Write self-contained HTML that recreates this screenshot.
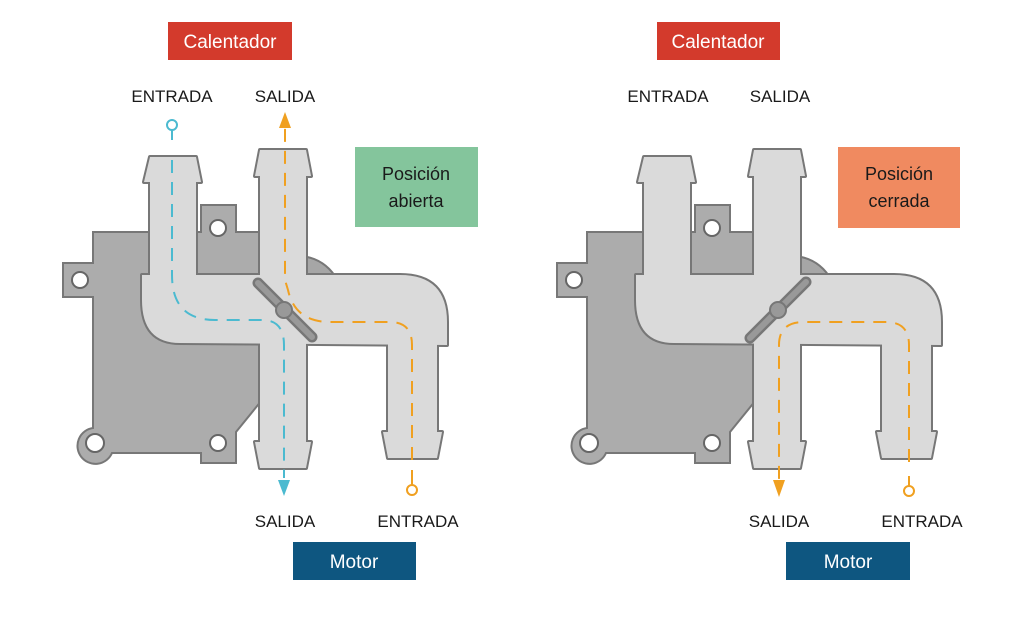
<!DOCTYPE html>
<html><head><style>
html,body{margin:0;padding:0;background:#fff;}
svg{display:block;font-family:"Liberation Sans",sans-serif;}
</style></head><body>
<svg width="1024" height="628" viewBox="0 0 1024 628" xmlns="http://www.w3.org/2000/svg">
<defs>
<g id="housing">
  <circle cx="298" cy="300" r="44" fill="#a6a6a6" stroke="#777" stroke-width="2"/>
  <path d="M93,232 L201,232 L201,205 L236,205 L236,232 L262,232 L262,400 L236,432 L236,463 L201,463 L201,453 L112,453 A18,18 0 1 1 93,428 L93,297 L63,297 L63,263 L93,263 Z" fill="#acacac" stroke="#777" stroke-width="2"/>
  <circle cx="80" cy="280" r="8" fill="#fff" stroke="#666" stroke-width="2"/>
  <circle cx="218" cy="228" r="8" fill="#fff" stroke="#666" stroke-width="2"/>
  <circle cx="95" cy="443" r="9" fill="#fff" stroke="#666" stroke-width="2"/>
  <circle cx="218" cy="443" r="8" fill="#fff" stroke="#666" stroke-width="2"/>
</g>
<g id="pipes">
  <path d="M150,300 L150,182 L144,182 L150,157 L196,157 L201,182 L196,182 L196,300 Z"/>
  <path d="M142,275 L400,275 Q447,275 447,322 L447,345 L180,343 Q142,343 142,300 Z"/>
  <path d="M260,360 L260,176 L255,176 L260,150 L306,150 L311,176 L306,176 L306,442 L311,442 L306,468 L260,468 L255,442 L260,442 Z"/>
  <path d="M388,330 L437,330 L437,432 L442,432 L437,458 L388,458 L383,432 L388,432 Z"/>
</g>
</defs>

<!-- LEFT DIAGRAM -->
<use href="#housing"/>
<g fill="#dadada" stroke="#777" stroke-width="4" stroke-linejoin="round"><use href="#pipes"/></g>
<g fill="#dadada" stroke="none"><use href="#pipes"/></g>
<line x1="258" y1="283" x2="312" y2="337" stroke="#777" stroke-width="11" stroke-linecap="round"/>
<line x1="258" y1="283" x2="312" y2="337" stroke="#999" stroke-width="6" stroke-linecap="round"/>
<circle cx="284" cy="310" r="8" fill="#999" stroke="#777" stroke-width="2"/>
<circle cx="172" cy="125" r="5" fill="none" stroke="#4bbad0" stroke-width="2"/>
<line x1="172" y1="130" x2="172" y2="140" stroke="#4bbad0" stroke-width="2"/>
<path d="M172,160 L172,275 Q172,320 215,320 L262,320 Q284,320 284,345 L284,478" fill="none" stroke="#4bbad0" stroke-width="2" stroke-dasharray="13,9"/>
<path d="M278,480 L290,480 L284,496 Z" fill="#4bbad0"/>
<circle cx="412" cy="490" r="5" fill="none" stroke="#f0a020" stroke-width="2"/>
<line x1="412" y1="485" x2="412" y2="470" stroke="#f0a020" stroke-width="2"/>
<path d="M412,460 L412,345 Q412,322 390,322 L330,322 Q295,322 288,290 L285,280 L285,128" fill="none" stroke="#f0a020" stroke-width="2" stroke-dasharray="13,9"/>
<path d="M279,128 L291,128 L285,112 Z" fill="#f0a020"/>

<!-- RIGHT DIAGRAM -->
<g transform="translate(494,0)">
<use href="#housing"/>
<g fill="#dadada" stroke="#777" stroke-width="4" stroke-linejoin="round"><use href="#pipes"/></g>
<g fill="#dadada" stroke="none"><use href="#pipes"/></g>
<line x1="256" y1="338" x2="312" y2="282" stroke="#777" stroke-width="11" stroke-linecap="round"/>
<line x1="256" y1="338" x2="312" y2="282" stroke="#999" stroke-width="6" stroke-linecap="round"/>
<circle cx="284" cy="310" r="8" fill="#999" stroke="#777" stroke-width="2"/>
<circle cx="415" cy="491" r="5" fill="none" stroke="#f0a020" stroke-width="2"/>
<line x1="415" y1="486" x2="415" y2="476" stroke="#f0a020" stroke-width="2"/>
<path d="M415,462 L415,345 Q415,322 392,322 L310,322 Q285,322 285,345 L285,480" fill="none" stroke="#f0a020" stroke-width="2" stroke-dasharray="13,9"/>
<path d="M279,480 L291,480 L285,497 Z" fill="#f0a020"/>
</g>

<!-- LABELS -->
<rect x="168" y="22" width="124" height="38" fill="#d33a2c"/>
<text x="230" y="48" font-size="19" fill="#fff" text-anchor="middle">Calentador</text>
<rect x="657" y="22" width="123" height="38" fill="#d33a2c"/>
<text x="718" y="48" font-size="19" fill="#fff" text-anchor="middle">Calentador</text>

<g font-size="17" fill="#1a1a1a" text-anchor="middle">
<text x="172" y="102">ENTRADA</text>
<text x="285" y="102">SALIDA</text>
<text x="668" y="102">ENTRADA</text>
<text x="780" y="102">SALIDA</text>
<text x="285" y="527">SALIDA</text>
<text x="418" y="527">ENTRADA</text>
<text x="779" y="527">SALIDA</text>
<text x="922" y="527">ENTRADA</text>
</g>

<rect x="293" y="542" width="123" height="38" fill="#0e5680"/>
<text x="354" y="568" font-size="19" fill="#fff" text-anchor="middle">Motor</text>
<rect x="786" y="542" width="124" height="38" fill="#0e5680"/>
<text x="848" y="568" font-size="19" fill="#fff" text-anchor="middle">Motor</text>

<rect x="355" y="147" width="123" height="80" fill="#84c59c"/>
<text x="416" y="180" font-size="18" fill="#1a1a1a" text-anchor="middle">Posición</text>
<text x="416" y="207" font-size="18" fill="#1a1a1a" text-anchor="middle">abierta</text>
<rect x="838" y="147" width="122" height="81" fill="#f08a60"/>
<text x="899" y="180" font-size="18" fill="#1a1a1a" text-anchor="middle">Posición</text>
<text x="899" y="207" font-size="18" fill="#1a1a1a" text-anchor="middle">cerrada</text>
</svg>
</body></html>
